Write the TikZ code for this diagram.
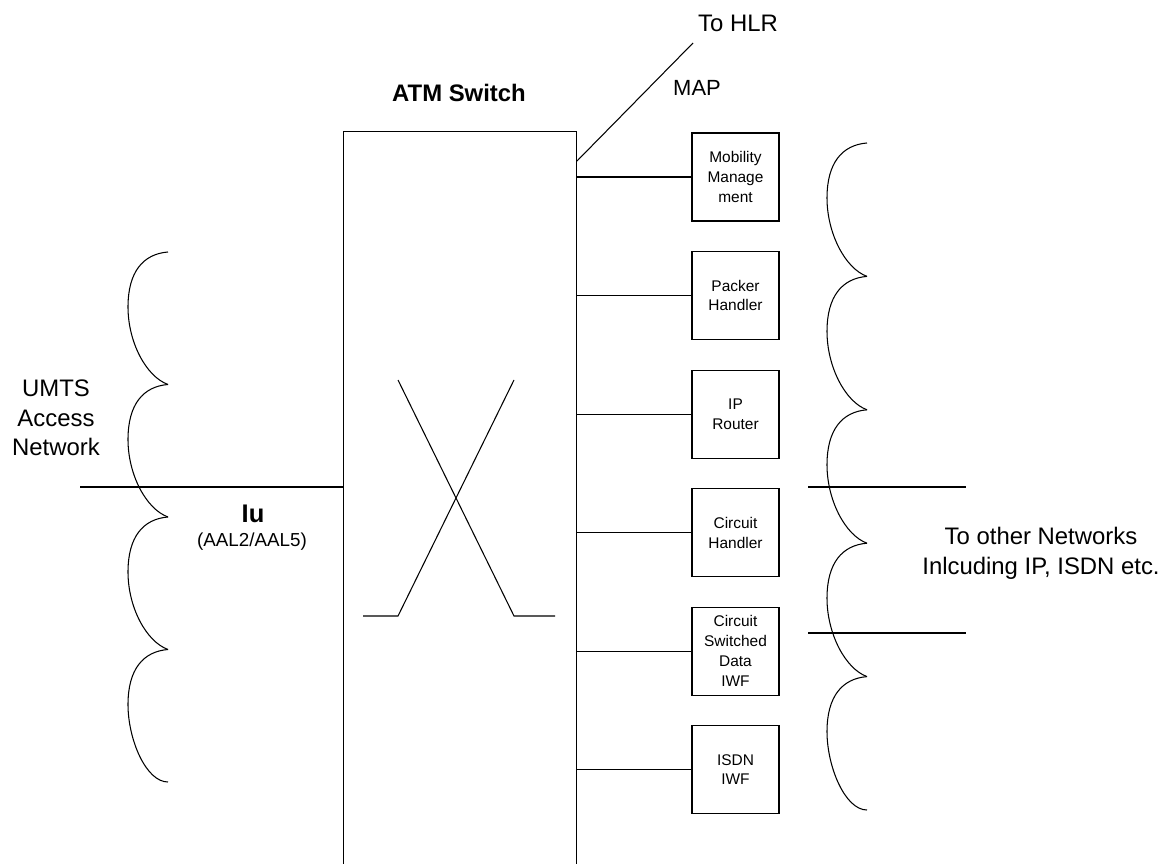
\documentclass[tikz,border=0pt]{standalone}
\usepackage{fontspec}
\setmainfont{Liberation Sans}
\usetikzlibrary{positioning, calc}

\begin{document}
\begin{tikzpicture}[
    x=0.02cm, y=-0.02cm,
    line width=0.6pt,
    node distance=0.59cm,
    box/.style={draw, rectangle, minimum height=1.76cm, minimum width=1.74cm, inner sep=0pt, align=center, font=\fontsize{8.8}{11.3}\selectfont},
    biglbl/.style={align=center, inner sep=0pt, font=\fontsize{13.6}{16.8}\selectfont},
    brace/.style={line width=0.6pt}
]
\useasboundingbox (0,0) rectangle (1176,864);

% switch
\node[draw, rectangle, minimum width=4.66cm, minimum height=15.4cm, inner sep=0pt, anchor=north west] (atm) at (343,131) {};
\node[biglbl, font=\fontsize{13.6}{16.8}\selectfont\bfseries] (title) at (459,93) {ATM Switch};
\draw (363,616) -- (398,616) -- (514,380);
\draw (398,380) -- (514,616) -- (555,616);

% functions
\node[box] (mm) at (735.5,177) {Mobility\\Manage\\ment};
\node[box, below=of mm] (ph) {Packer\\Handler};
\node[box, below=of ph] (ipr) {IP\\Router};
\node[box, below=of ipr] (ch) {Circuit\\Handler};
\node[box, below=of ch] (csd) {Circuit\\Switched\\Data\\IWF};
\node[box, below=of csd] (isdn) {ISDN\\IWF};

\foreach \b in {mm,ph,ipr,ch,csd,isdn}
    \draw (\b.west) -- (\b.west -| atm.east);

% HLR
\node[biglbl] (hlr) at (738,23) {To HLR};
\node[inner sep=0pt, font=\fontsize{12.5}{15}\selectfont] (map) at (697,88) {MAP};
\coordinate (hlrend) at (693,43);
\draw ($(atm.north east)+(0,30)$) -- (hlrend);

% access side
\node[biglbl] (umts) at (56,418) {UMTS\\Access\\Network};
\node[inner sep=0pt, font=\fontsize{14.5}{17}\selectfont\bfseries] (iu) at (253,514) {Iu};
\node[inner sep=0pt, font=\fontsize{10.7}{13}\selectfont] (aal) at (252,542) {(AAL2/AAL5)};
\coordinate (iuend) at (80,487);
\draw (iuend) -- (iuend -| atm.west);

\foreach \y/\e in {252/124.5, 384.5/124.5, 517/124.5, 649.5/132.5}
    \draw[brace] (168,\y) .. controls (143,\y+2) and (128,\y+20) .. (128,\y+55)
        .. controls (128,\y+90) and (146,\y+\e) .. (168,\y+132.5);

% network side
\node[biglbl, font=\fontsize{13.6}{17}\selectfont] (other) at (1041,553) {To other Networks\\Inlcuding IP, ISDN etc.};
\coordinate (ra) at (808,487);
\coordinate (rb) at (966,487);
\coordinate (rc) at (808,633);
\coordinate (rd) at (966,633);
\draw (ra) -- (rb);
\draw (rc) -- (rd);

\foreach \y/\e in {143/125.4, 276.4/125.4, 409.8/125.4, 543.2/125.4, 676.6/133.4}
    \draw[brace] (867,\y) .. controls (842,\y+2) and (827,\y+20) .. (827,\y+55)
        .. controls (827,\y+90) and (845,\y+\e) .. (867,\y+133.4);
\end{tikzpicture}
\end{document}
